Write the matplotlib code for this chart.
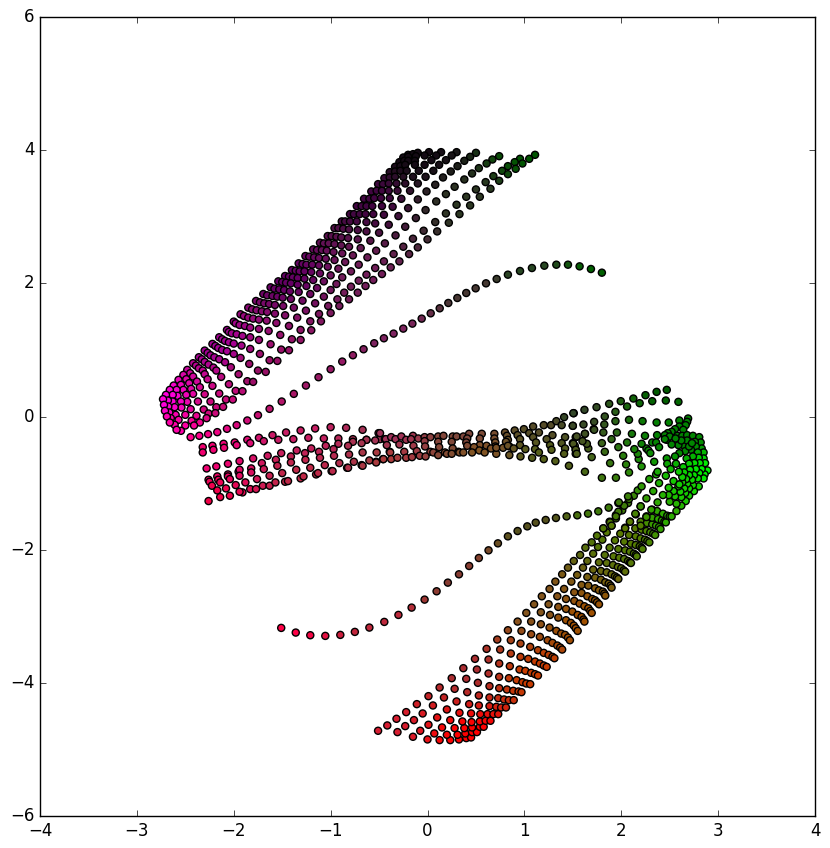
import numpy as np
import matplotlib
matplotlib.use('Agg')
import matplotlib.pyplot as plt

# upper band, one row per list
upper_x = [
 [-.20,-.15,-.10,.015,.14,.30,.50,.74,.955,1.11],
 [-.25,-.20,-.12,-.03,.09,.25,.44,.67,.90,1.05],
 [-.29,-.24,-.20,-.13,.04,.19,.38,.61,.83,.98],
 [-.335,-.28,-.23,-.13,-.03,.12,.31,.53,.77,.91],
 [-.39,-.335,-.28,-.215,-.09,.06,.24,.46,.68,.83],
 [-.445,-.39,-.335,-.25,-.15,-.02,.16,.38,.60,.74],
 [-.51,-.46,-.40,-.32,-.23,-.10,.08,.28,.50,.65],
 [-.58,-.525,-.47,-.40,-.31,-.18,-.01,.19,.40,.54],
 [-.655,-.60,-.55,-.48,-.39,-.27,-.10,.09,.30,.44],
 [-.73,-.68,-.63,-.57,-.47,-.36,-.20,-.02,.19,.33],
 [-.80,-.76,-.70,-.64,-.56,-.45,-.30,-.12,.08,.22],
 [-.885,-.85,-.80,-.73,-.63,-.54,-.40,-.23,-.04,.10],
 [-.96,-.92,-.87,-.81,-.72,-.63,-.50,-.33,-.15,0.0],
 [-1.03,-.99,-.94,-.89,-.82,-.72,-.59,-.44,-.25,-.10],
 [-1.11,-1.07,-1.02,-.96,-.89,-.81,-.69,-.53,-.35,-.19],
 [-1.18,-1.14,-1.09,-1.04,-.97,-.88,-.77,-.62,-.45,-.29],
 [-1.26,-1.22,-1.17,-1.12,-1.05,-.96,-.85,-.71,-.54,-.38],
 [-1.33,-1.29,-1.25,-1.19,-1.12,-1.03,-.92,-.79,-.63,-.47],
 [-1.40,-1.36,-1.32,-1.27,-1.20,-1.11,-1.00,-.88,-.71,-.56],
 [-1.47,-1.43,-1.39,-1.34,-1.27,-1.18,-1.07,-.94,-.79,-.64],
 [-1.54,-1.50,-1.46,-1.41,-1.34,-1.25,-1.14,-1.00,-.86,-.72],
 [-1.62,-1.58,-1.53,-1.48,-1.42,-1.33,-1.21,-1.07,-.93,-.81],
 [-1.695,-1.655,-1.60,-1.55,-1.495,-1.41,-1.29,-1.16,-1.025,-.91],
 [-1.77,-1.73,-1.685,-1.635,-1.575,-1.49,-1.38,-1.255,-1.12,-1.00],
 [-1.85,-1.81,-1.765,-1.71,-1.655,-1.575,-1.47,-1.345,-1.21,-1.10],
 [-1.93,-1.895,-1.85,-1.80,-1.74,-1.66,-1.56,-1.43,-1.31,-1.20],
 [-2.0,-1.98,-1.94,-1.885,-1.83,-1.74,-1.64,-1.52,-1.40,-1.31],
 [-2.07,-2.05,-2.02,-1.97,-1.91,-1.83,-1.74,-1.62,-1.51,-1.43],
 [-2.15,-2.12,-2.09,-2.05,-2.00,-1.92,-1.83,-1.73,-1.63,-1.55],
 [-2.22,-2.19,-2.16,-2.12,-2.07,-2.00,-1.93,-1.84,-1.75,-1.67],
 [-2.30,-2.27,-2.24,-2.20,-2.15,-2.09,-2.03,-1.95,-1.86,-1.80],
 [-2.36,-2.33,-2.30,-2.26,-2.21,-2.18,-2.13,-2.05,-1.98,-1.91],
 [-2.42,-2.39,-2.36,-2.32,-2.30,-2.27,-2.22,-2.15,-2.08,-2.01],
 [-2.48,-2.45,-2.42,-2.38,-2.35,-2.30,-2.24,-2.18,-2.11],
 [-2.52,-2.49,-2.46,-2.44,-2.42,-2.37,-2.31,-2.26,-2.19],
 [-2.57,-2.545,-2.52,-2.49,-2.48,-2.445,-2.385,-2.35,-2.28],
 [-2.62,-2.59,-2.58,-2.545,-2.54,-2.50,-2.435,-2.41],
 [-2.66,-2.63,-2.63,-2.61,-2.60,-2.57,-2.50],
 [-2.70,-2.68,-2.676,-2.665,-2.65,-2.61,-2.545],
 [-2.73,-2.72,-2.71,-2.69,-2.66,-2.59],
]
upper_y = [
 [3.93,3.94,3.96,3.97,3.97,3.97,3.96,3.91,3.87,3.93],
 [3.89,3.90,3.91,3.92,3.92,3.92,3.90,3.86,3.82,3.87],
 [3.82,3.84,3.84,3.84,3.85,3.85,3.84,3.80,3.76,3.80],
 [3.75,3.76,3.78,3.78,3.78,3.78,3.76,3.73,3.69,3.72],
 [3.67,3.68,3.69,3.69,3.69,3.69,3.68,3.65,3.61,3.64],
 [3.58,3.59,3.60,3.60,3.60,3.60,3.59,3.56,3.52,3.54],
 [3.49,3.49,3.50,3.50,3.50,3.50,3.48,3.45,3.41,3.42],
 [3.38,3.39,3.39,3.39,3.39,3.39,3.38,3.34,3.30,3.30],
 [3.27,3.27,3.28,3.28,3.28,3.27,3.26,3.23,3.18,3.17],
 [3.16,3.16,3.16,3.16,3.16,3.15,3.13,3.10,3.05,3.04],
 [3.04,3.04,3.04,3.04,3.04,3.03,3.01,2.98,2.92,2.91],
 [2.93,2.93,2.93,2.93,2.92,2.90,2.88,2.85,2.79,2.78],
 [2.83,2.83,2.82,2.81,2.80,2.78,2.76,2.72,2.67,2.66],
 [2.71,2.71,2.70,2.69,2.68,2.66,2.64,2.60,2.55,2.54],
 [2.61,2.60,2.60,2.59,2.57,2.55,2.53,2.49,2.44,2.44],
 [2.51,2.50,2.50,2.49,2.47,2.45,2.42,2.39,2.33,2.33],
 [2.41,2.40,2.39,2.38,2.37,2.35,2.32,2.28,2.23,2.24],
 [2.30,2.29,2.28,2.28,2.27,2.25,2.22,2.18,2.13,2.14],
 [2.20,2.19,2.18,2.18,2.17,2.15,2.12,2.09,2.04,2.05],
 [2.11,2.10,2.09,2.08,2.07,2.05,2.03,1.99,1.95,1.96],
 [2.03,2.02,2.01,2.00,1.98,1.96,1.93,1.90,1.86,1.86],
 [1.94,1.92,1.91,1.90,1.88,1.87,1.84,1.80,1.76,1.76],
 [1.84,1.82,1.81,1.80,1.785,1.765,1.74,1.70,1.66,1.66],
 [1.735,1.715,1.70,1.69,1.675,1.66,1.635,1.59,1.54,1.555],
 [1.635,1.61,1.595,1.58,1.57,1.545,1.52,1.485,1.43,1.43],
 [1.535,1.51,1.485,1.47,1.455,1.44,1.405,1.36,1.30,1.295],
 [1.425,1.40,1.375,1.36,1.335,1.315,1.285,1.225,1.16,1.15],
 [1.30,1.27,1.25,1.235,1.21,1.19,1.15,1.085,1.005,.995],
 [1.19,1.16,1.135,1.115,1.095,1.065,1.015,.94,.845,.835],
 [1.09,1.06,1.03,1.00,.98,.94,.88,.79,.69,.67],
 [.99,.955,.92,.89,.86,.815,.74,.635,.53,.52],
 [.89,.86,.82,.78,.735,.69,.595,.485,.385,.38],
 [.80,.765,.725,.69,.635,.56,.46,.345,.255,.255],
 [.70,.65,.60,.525,.44,.335,.225,.14,.145],
 [.625,.56,.50,.415,.34,.225,.105,.045,.05],
 [.55,.475,.40,.325,.22,.11,.01,-.09,-.025],
 [.465,.40,.31,.225,.135,.025,-.065,-.135],
 [.40,.325,.225,.14,.025,-.05,-.135],
 [.325,.24,.15,.06,-.025,-.125,-.215],
 [.26,.175,.085,0.0,-.09,-.20],
]

# lower band
lower_x = [
 [-.51,-.31,-.15,0.0,.125,.235,.325,.40,.45],
 [-.415,-.23,-.075,.07,.20,.31,.39,.46,.51],
 [-.32,-.14,.01,.15,.28,.38,.46,.54,.58],
 [-.22,-.05,.10,.235,.36,.455,.54,.60,.65],
 [-.11,.056,.20,.33,.45,.545,.62,.68,.73],
 [.01,.17,.30,.43,.53,.64,.71,.76,.81],
 [.125,.28,.41,.53,.64,.73,.79,.84,.89],
 [.25,.40,.52,.64,.74,.82,.885,.94,.97],
 [.37,.51,.63,.74,.84,.92,.98,1.02,1.06],
 [.49,.63,.74,.85,.95,1.01,1.07,1.11,1.14],
 [.61,.75,.86,.96,1.04,1.11,1.16,1.20,1.23],
 [.72,.86,.96,1.06,1.14,1.20,1.25,1.29,1.31],
 [.83,.97,1.07,1.16,1.24,1.29,1.34,1.37,1.39],
 [.93,1.07,1.17,1.26,1.33,1.38,1.42,1.45,1.47],
 [1.02,1.17,1.265,1.35,1.43,1.48,1.51,1.53,1.55],
 [1.10,1.25,1.35,1.43,1.495,1.55,1.59,1.61,1.62],
 [1.18,1.34,1.43,1.515,1.57,1.62,1.66,1.68,1.695],
 [1.26,1.41,1.515,1.59,1.65,1.70,1.73,1.75,1.77],
 [1.32,1.485,1.59,1.66,1.73,1.77,1.81,1.825,1.835],
 [1.39,1.545,1.65,1.73,1.79,1.835,1.87,1.89,1.90],
 [1.45,1.605,1.71,1.79,1.85,1.90,1.935,1.955,1.97],
 [1.51,1.65,1.77,1.85,1.915,1.965,2.0,2.025,2.04],
 [1.575,1.71,1.83,1.92,1.98,2.03,2.07,2.09,2.10],
 [1.63,1.76,1.88,1.97,2.04,2.09,2.13,2.15,2.16],
 [1.695,1.805,1.935,2.03,2.10,2.15,2.19,2.21,2.22],
 [1.75,1.85,1.99,2.08,2.15,2.20,2.245,2.27,2.29],
 [1.815,1.90,2.04,2.145,2.21,2.26,2.30,2.33,2.35],
 [1.88,1.945,2.09,2.20,2.265,2.32,2.36,2.39,2.405],
 [1.945,2.01,2.15,2.26,2.32,2.38,2.42,2.445,2.46],
 [1.97,2.07,2.20,2.32,2.37,2.43,2.475,2.50,2.52],
]
lower_y = [
 [-4.72,-4.74,-4.81,-4.85,-4.86,-4.86,-4.85,-4.83,-4.82],
 [-4.64,-4.65,-4.72,-4.76,-4.78,-4.78,-4.76,-4.74,-4.74],
 [-4.54,-4.56,-4.63,-4.67,-4.68,-4.68,-4.67,-4.66,-4.66],
 [-4.44,-4.46,-4.52,-4.56,-4.58,-4.59,-4.58,-4.57,-4.57],
 [-4.32,-4.34,-4.40,-4.45,-4.46,-4.47,-4.47,-4.47,-4.47],
 [-4.20,-4.22,-4.28,-4.32,-4.34,-4.35,-4.36,-4.37,-4.37],
 [-4.07,-4.09,-4.14,-4.19,-4.22,-4.23,-4.25,-4.26,-4.26],
 [-3.93,-3.94,-4.0,-4.05,-4.08,-4.10,-4.12,-4.13,-4.14],
 [-3.78,-3.80,-3.86,-3.91,-3.93,-3.96,-3.99,-4.01,-4.02],
 [-3.64,-3.65,-3.71,-3.75,-3.80,-3.82,-3.85,-3.87,-3.89],
 [-3.49,-3.50,-3.56,-3.61,-3.64,-3.68,-3.71,-3.74,-3.76],
 [-3.35,-3.36,-3.41,-3.46,-3.51,-3.55,-3.58,-3.61,-3.63],
 [-3.21,-3.22,-3.27,-3.31,-3.36,-3.40,-3.44,-3.47,-3.50],
 [-3.08,-3.08,-3.12,-3.17,-3.22,-3.26,-3.28,-3.32,-3.36],
 [-2.95,-2.94,-2.98,-3.02,-3.06,-3.10,-3.14,-3.18,-3.22],
 [-2.82,-2.82,-2.86,-2.89,-2.93,-2.98,-3.01,-3.05,-3.08],
 [-2.70,-2.70,-2.74,-2.77,-2.81,-2.85,-2.88,-2.92,-2.95],
 [-2.59,-2.59,-2.64,-2.65,-2.70,-2.74,-2.76,-2.79,-2.82],
 [-2.48,-2.48,-2.53,-2.54,-2.58,-2.61,-2.63,-2.66,-2.69],
 [-2.37,-2.38,-2.41,-2.42,-2.45,-2.49,-2.51,-2.54,-2.57],
 [-2.27,-2.27,-2.30,-2.32,-2.34,-2.37,-2.40,-2.42,-2.44],
 [-2.17,-2.17,-2.19,-2.20,-2.23,-2.26,-2.28,-2.31,-2.33],
 [-2.08,-2.06,-2.08,-2.10,-2.12,-2.14,-2.17,-2.19,-2.20],
 [-1.97,-1.96,-1.97,-1.99,-2.01,-2.03,-2.06,-2.08,-2.10],
 [-1.89,-1.85,-1.86,-1.88,-1.91,-1.93,-1.95,-1.97,-1.99],
 [-1.79,-1.74,-1.76,-1.78,-1.80,-1.83,-1.85,-1.87,-1.89],
 [-1.68,-1.64,-1.67,-1.68,-1.70,-1.72,-1.74,-1.76,-1.78],
 [-1.58,-1.53,-1.58,-1.58,-1.60,-1.62,-1.64,-1.66,-1.69],
 [-1.48,-1.41,-1.47,-1.50,-1.52,-1.54,-1.56,-1.58,-1.59],
 [-1.30,-1.30,-1.35,-1.40,-1.42,-1.46,-1.49,-1.50,-1.50],
]

# right end, green part
right_x = [
 [2.47,2.365,2.25,2.125,1.995,1.875,1.745,1.62,1.51],
 [2.59,2.46,2.32,2.19,2.06,1.94,1.83,1.72,1.61,1.50],
 [2.69,2.60,2.49,2.365,2.22,2.08,1.94,1.825,1.715,1.625,1.53],
 [2.68,2.665,2.60,2.64,2.555,2.52,2.48,2.45,2.37,2.47,2.50,2.58,2.63,2.68,2.74],
 [2.805,2.82,2.83,2.85,2.85,2.865,2.89,2.86,2.85,2.80,2.75,2.70,2.665,2.62,2.57],
 [2.76,2.77,2.79,2.80,2.81,2.83,2.805,2.79,2.74,2.70,2.66,2.62,2.57],
 [2.72,2.74,2.755,2.77,2.75,2.73,2.68,2.65,2.61,2.555,2.50],
 [2.64,2.66,2.675,2.70,2.71,2.70,2.67,2.63,2.59,2.54,2.49],
 [2.59,2.60,2.64,2.65,2.63,2.54,2.60,2.49,2.43,2.375,2.31,2.26,2.20],
 [2.555,2.565,2.595,2.47,2.475,2.51,2.46,2.39,2.33,2.26,2.20,2.145,2.09,2.04],
 [2.13,2.08,2.03,1.97,1.945,1.885,1.90,1.815],
 [1.945,1.80,1.625,1.885,2.08,2.05,2.21,2.18,2.02,2.17,2.135,2.26,2.28,2.30,2.21,2.06,1.97,1.83,1.695,1.53,1.53],
 [2.32,2.36,2.39,2.45,2.245,2.11,1.955,1.90,1.80,1.815,1.72,1.66,1.645,1.60,1.625,1.50,1.52],
 [2.68,2.70,2.73,2.62,2.56,2.52],
]
right_y = [
 [.40,.37,.32,.27,.23,.19,.14,.10,.05],
 [.22,.24,.23,.20,.15,.07,0.0,-.08,-.12,-.14],
 [-.03,-.06,-.09,-.09,-.07,-.05,-.07,-.12,-.19,-.26,-.31],
 [-.08,-.13,-.15,-.20,-.19,-.23,-.25,-.28,-.28,-.35,-.30,-.29,-.29,-.28,-.29],
 [-.31,-.39,-.48,-.54,-.63,-.70,-.81,-.87,-.93,-1.05,-1.12,-1.19,-1.27,-1.34,-1.42],
 [-.38,-.45,-.54,-.62,-.70,-.79,-.85,-.93,-1.03,-1.08,-1.15,-1.21,-1.31],
 [-.50,-.60,-.70,-.79,-.88,-.95,-1.01,-1.08,-1.13,-1.20,-1.28],
 [-.43,-.52,-.63,-.71,-.80,-.88,-.94,-.99,-1.05,-1.12,-1.18],
 [-.43,-.55,-.76,-.84,-.91,-.97,-1.02,-1.07,-1.18,-1.29,-1.40,-1.51,-1.64],
 [-.60,-.71,-.83,-.63,-.71,-.79,-.89,-1.0,-1.12,-1.23,-1.35,-1.46,-1.58,-1.68],
 [-1.19,-1.24,-1.34,-1.43,-1.50,-1.59,-1.64,-1.68],
 [-.92,-.92,-.83,-.70,-.84,-.72,-.75,-.64,-.59,-.56,-.49,-.48,-.51,-.55,-.41,-.39,-.46,-.53,-.61,-.50,-.56],
 [-.39,-.39,-.46,-.34,-.29,-.26,-.24,-.34,-.40,-.24,-.20,-.48,-.41,-.37,-.26,-.40,-.44],
 [-.36,-.45,-.40,-.36,-.33,-.42],
]

# middle band
middle_x = [
 [-1.74,-1.60,-1.46,-1.31,-1.16,-1.0,-.84,-.67,-.505],
 [-1.86,-1.69,-1.54,-1.385,-1.23,-1.07,-.92,-.77,-.63],
 [-2.32,-2.22,-2.105,-1.99,-1.83],
 [-2.32,-2.21,-2.10,-1.97],
 [-2.28,-2.18,-2.06,-1.94,-1.80,-1.65,-1.51,-1.35,-1.20,-1.05,-.92,-.77,-.63,-.49],
 [-2.26,-2.17,-2.06,-1.95,-1.82,-1.71,-1.565,-1.41,-1.265,-1.12,-.97,-.82,-.68,-.54,-.44],
 [-2.25,-2.16,-2.06,-1.94],
 [-2.225,-2.14,-2.04,-1.94,-1.82,-1.69,-1.55,-1.41,-1.26,-1.11,-.965,-.81,-.67,-.525,-.39],
 [-2.17,-2.08,-1.98,-1.88,-1.76,-1.63,-1.50,-1.355,-1.21,-1.06,-.91,-.76,-.60,-.46],
 [-2.26,-2.14,-2.04,-1.91,-1.94,-1.83,-1.77,-1.70,-1.63,-1.57,-1.47,-1.44,-1.31,-1.28,-1.15,-1.13,-.99,-.98,-.83,-.82,-.68,-.67,-.53,-.53],
 [-.49,-.43,-.375,-.33,-.27,-.22,-.15,-.17,-.095,-.03,.03,.11,.165,.11,.26,.30,.25,.37,.43,.41,.40,.56,.54,.69,.69,.70,.80,.82,.83,.90,.93,.955,.995,1.05,1.09,1.09,1.15,1.20,1.275,1.33,1.385,1.41,1.505,1.50],
 [-.42,-.29,-.145,-.03,-.025,.12,.26,.41,.54,.70,.81,.845,.955,1.01,1.12,1.11,1.15,1.29,1.23,1.265,1.28,1.42,1.385,1.42,1.41,1.54,1.505,1.53,1.54],
 [-.385,-.24,-.11,.03,.18,.32,.48,.61,.71,.845,.96,1.08,1.20,1.32,1.46],
 [-.455,-.375,-.31,-.22,-.16,-.08,-.02,.06,.11,.20,.25,.33,.37,.46,.535,.59,.655,.71,.78,.83,.89],
]
middle_y = [
 [-.32,-.28,-.24,-.21,-.18,-.16,-.17,-.20,-.25],
 [-.35,-.37,-.35,-.34,-.32,-.33,-.33,-.34,-.35],
 [-.46,-.44,-.41,-.39,-.40],
 [-.54,-.50,-.47,-.43],
 [-.78,-.75,-.71,-.67,-.63,-.59,-.55,-.51,-.48,-.44,-.41,-.38,-.35,-.34],
 [-.95,-.90,-.87,-.83,-.78,-.70,-.65,-.60,-.55,-.53,-.49,-.44,-.40,-.36,-.34],
 [-.98,-.95,-.90,-.80],
 [-1.04,-.99,-.94,-.89,-.84,-.79,-.74,-.69,-.65,-.62,-.59,-.57,-.54,-.54,-.53],
 [-1.11,-1.08,-1.03,-.99,-.94,-.89,-.85,-.80,-.77,-.73,-.70,-.68,-.66,-.64],
 [-1.27,-1.21,-1.19,-1.14,-1.13,-1.09,-1.09,-1.04,-1.04,-.99,-.98,-.97,-.93,-.90,-.87,-.85,-.82,-.82,-.77,-.77,-.73,-.74,-.68,-.69],
 [-.25,-.34,-.31,-.34,-.30,-.35,-.29,-.34,-.33,-.31,-.31,-.30,-.29,-.38,-.30,-.30,-.38,-.30,-.26,-.33,-.39,-.26,-.33,-.26,-.33,-.39,-.24,-.29,-.35,-.21,-.28,-.34,-.19,-.25,-.31,-.15,-.24,-.13,-.13,-.07,-.13,-.01,.05,-.14],
 [-.43,-.42,-.44,-.37,-.45,-.46,-.48,-.44,-.43,-.45,-.38,-.45,-.43,-.49,-.39,-.49,-.54,-.28,-.34,-.43,-.50,-.31,-.40,-.48,-.56,-.30,-.41,-.50,-.56],
 [-.54,-.53,-.52,-.53,-.54,-.53,-.46,-.44,-.56,-.58,-.60,-.62,-.64,-.67,-.74],
 [-.64,-.64,-.62,-.62,-.61,-.59,-.60,-.54,-.58,-.56,-.56,-.54,-.54,-.54,-.51,-.54,-.48,-.47,-.47,-.44,-.48],
]

# the two single curves
curve_top_x = [-2.445,-2.355,-2.265,-2.17,-2.07,-1.97,-1.86,-1.75,-1.63,-1.505,-1.38,-1.255,-1.125,-1.0,-.88,-.77,-.66,-.55,
               -.45,-.35,-.25,-.156,-.06,.033,.126,.215,.308,.40,.497,.604,.714,.83,.955,1.078,1.206,1.33,1.45,1.57,1.687,1.80]
curve_top_y = [-.31,-.29,-.265,-.235,-.185,-.13,-.06,.02,.115,.225,.34,.465,.59,.71,.825,.92,1.01,1.10,
               1.175,1.245,1.32,1.395,1.47,1.55,1.625,1.705,1.78,1.855,1.925,2.0,2.065,2.13,2.185,2.23,2.265,2.28,2.28,2.255,2.215,2.16]
curve_low_x = [-1.51,-1.36,-1.21,-1.055,-.90,-.75,-.60,-.446,-.30,-.164,-.03,.094,.21,.325,.43,.53,.63,.727,.83,.93,1.03,
               1.117,1.22,1.326,1.436,1.546,1.657,1.763,1.87,1.975,2.07,2.17,2.21,2.29,2.36,2.375,2.34]
curve_low_y = [-3.175,-3.245,-3.285,-3.295,-3.28,-3.235,-3.17,-3.085,-2.98,-2.87,-2.75,-2.625,-2.495,-2.37,-2.245,-2.125,-2.01,-1.905,-1.80,-1.72,-1.65,
               -1.594,-1.554,-1.524,-1.50,-1.484,-1.459,-1.424,-1.369,-1.29,-1.20,-1.11,-1.05,-.94,-.87,-.83,-.68]

# colours seen at some places, other points take a blend of the nearest ones
colour_at = [
 (-.1,3.95,20,10,20),(1.11,3.93,0,85,0),(.44,3.17,45,55,35),(-.65,3.27,65,5,65),(-.64,1.96,115,30,90),
 (-1.47,2.11,100,0,100),(-1.68,.67,150,15,100),(-2.22,1.09,165,0,150),(-2.73,.26,255,0,220),(-2.59,-.2,255,0,170),
 (-2.18,.14,200,10,120),(-.45,1.17,125,35,95),(.5,1.92,70,55,50),(1.8,2.16,0,95,0),(1.0,2.19,40,70,35),
 (-2.44,-.31,255,0,140),(-1.0,.71,150,25,100),(-2.26,-1.27,240,0,70),(-2.3,-.5,240,0,110),(-1.3,-.2,200,30,100),
 (-1.3,-.9,190,40,70),(-.4,-.3,160,50,90),(-.4,-.6,170,60,60),(.4,-.35,125,70,60),(.5,-.54,130,85,35),
 (1.2,-.15,85,75,40),(1.2,-.6,85,95,25),(1.5,.05,50,70,40),(2.47,.41,0,90,0),(2.6,-.1,0,130,0),
 (2.89,-.81,0,240,0),(2.6,-.4,0,130,0),(2.75,-1.1,20,210,0),(2.5,-1.5,45,170,0),(2.04,-1.68,90,120,0),(1.62,-3.08,160,80,0),(1.1,-2.82,130,85,30),
 (1.14,-3.89,200,60,0),(.45,-4.82,255,0,0),(-.51,-4.72,215,30,50),(.37,-3.78,170,45,50),(-1.51,-3.18,255,0,70),
 (-.45,-3.09,190,40,60),(.3,-2.4,135,60,50),(1.1,-1.6,85,80,30),(1.87,-1.37,60,120,10),
]


def flat(rows):
    return [v for row in rows for v in row]


xs = np.array(flat(upper_x) + flat(lower_x) + flat(right_x) + flat(middle_x) + curve_top_x + curve_low_x)
ys = np.array(flat(upper_y) + flat(lower_y) + flat(right_y) + flat(middle_y) + curve_top_y + curve_low_y)

ref = np.array(colour_at)
d = np.hypot(xs[:, None] - ref[:, 0], ys[:, None] - ref[:, 1]) + 0.02
w = d ** -3.0
cols = (w[:, :, None] * ref[:, 2:]).sum(axis=1) / w.sum(axis=1, keepdims=True) / 255

plt.style.use('classic')
fig = plt.figure(figsize=(8.3, 8.48), dpi=100, facecolor='white')
ax = fig.add_axes([40 / 830, 1 - 816 / 848, 775 / 830, 799 / 848])
ax.scatter(xs, ys, c=cols, s=26, edgecolors='black', linewidths=1.0)
ax.set_xlim(-4, 4)
ax.set_ylim(-6, 6)
ax.tick_params(labelsize=12)
fig.savefig('out.png', dpi=100, facecolor='white')
